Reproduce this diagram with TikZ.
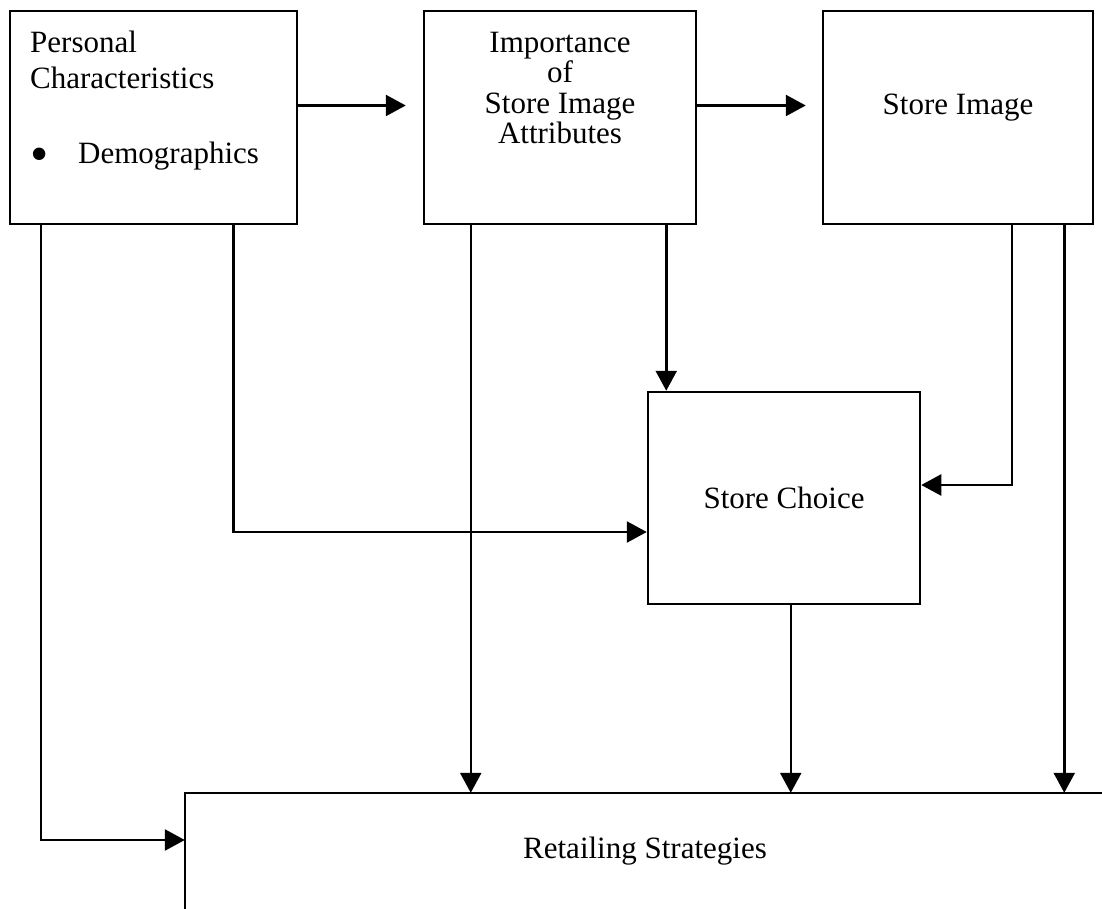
\documentclass[tikz,border=0pt]{standalone}
\usepackage{fontspec}
\setmainfont{Liberation Serif}
\usetikzlibrary{arrows.meta}

\begin{document}
\begin{tikzpicture}[x=1pt,y=-1pt,
		font=\fontsize{31}{36}\selectfont,
		block/.style={draw,line width=2.5pt,inner sep=0pt},
		flow/.style={line width=2.5pt,-{Triangle[length=20pt,width=21pt]}}]
		\useasboundingbox (0,0) rectangle (1102,909);
		%top row
		\node[block,minimum width=287pt,minimum height=213pt] (pc) at (153.5,117.5) {};
		\node[anchor=north west,align=left,inner sep=0pt] (pctext) at (30,31)
			{Personal\\Characteristics\\[39pt]\makebox[48pt][l]{\fontsize{52}{36}\selectfont\raisebox{-8pt}{\textbullet}}Demographics};
		\node[block,minimum width=272pt,minimum height=213pt] (imp) at (560,117.5) {};
		\node[anchor=north,align=center,inner sep=0pt,font=\fontsize{31}{30.5}\selectfont] (imptext) at (560,32)
			{Importance\\of\\Store Image\\Attributes};
		\node[block,minimum width=270pt,minimum height=213pt] (img) at (958,117.5) {};
		\node (imgtext) at (958,108) {Store Image};
		%store choice
		\node[block,minimum width=272pt,minimum height=212pt] (choice) at (784,498) {Store Choice};
		%retailing strategies (runs off the page)
		\node[minimum width=920pt,minimum height=116pt,inner sep=0pt] (retail) at (645,851) {Retailing Strategies};
		\draw[line width=2.5pt] (retail.south west) -- (retail.north west) -- (retail.north east);
		%arrows along the top
		\draw[flow,shorten >=17pt] ([yshift=12pt]pc.east) -- ([yshift=12pt]imp.west);
		\draw[flow,shorten >=16pt] ([yshift=12pt]imp.east) -- ([yshift=12pt]img.west);
		%arrows down
		\draw[flow] ([xshift=32pt]pc.south west) |- ([yshift=11pt]retail.west);
		\draw[flow] ([xshift=-65pt]pc.south east) |- ([yshift=-34pt]choice.west);
		\draw[flow] ([xshift=48pt]imp.south west) -- ([xshift=48pt]imp.south west |- retail.north);
		\draw[flow] ([xshift=-31pt]imp.south east) -- ([xshift=-31pt]imp.south east |- choice.north);
		\draw[flow] ([xshift=190pt]img.south west) |- ([yshift=13pt]choice.east);
		\draw[flow] ([xshift=-30pt]img.south east) -- ([xshift=-30pt]img.south east |- retail.north);
		\draw[flow] ([xshift=144pt]choice.south west) -- ([xshift=144pt]choice.south west |- retail.north);
\end{tikzpicture}
\end{document}
